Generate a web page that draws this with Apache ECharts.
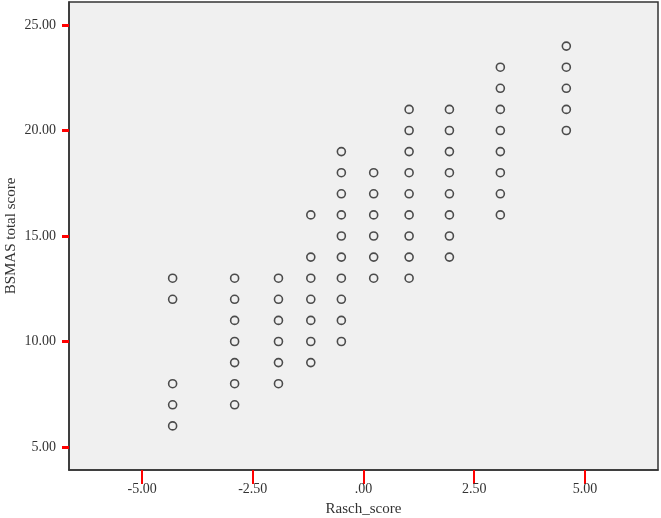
<!DOCTYPE html>
<html>
<head>
<meta charset="utf-8">
<script src="https://cdn.jsdelivr.net/npm/echarts@6/dist/echarts.min.js"></script>
<style>
  html, body { margin: 0; padding: 0; background: #fff; }
  #chart { width: 661px; height: 518px; }
</style>
</head>
<body>
<div id="chart"></div>
<script>
// Rasch score columns (x) and the BSMAS totals observed at each
const raschScores = [-4.31, -2.91, -1.92, -1.19, -0.50, 0.23, 1.03, 1.94, 3.09, 4.58];
const bsmasByColumn = [
  [13, 12, 8, 7, 6],
  [13, 12, 11, 10, 9, 8, 7],
  [13, 12, 11, 10, 9, 8],
  [16, 14, 13, 12, 11, 10, 9],
  [19, 18, 17, 16, 15, 14, 13, 12, 11, 10],
  [18, 17, 16, 15, 14, 13],
  [21, 20, 19, 18, 17, 16, 15, 14, 13],
  [21, 20, 19, 18, 17, 16, 15, 14],
  [23, 22, 21, 20, 19, 18, 17, 16],
  [24, 23, 22, 21, 20]
];
const xTicks = [-5, -2.5, 0, 2.5, 5];
const yTicks = [5, 10, 15, 20, 25];

const points = [];
raschScores.forEach((x, i) => {
  bsmasByColumn[i].forEach((y) => points.push([x, y]));
});

// SPSS style number: ".00" for zero
function fmt(v) {
  const s = Math.abs(v).toFixed(2);
  const t = Math.abs(v) < 1 ? s.slice(1) : s;
  return (v < 0 ? '-' : '') + t;
}

const font = '"Liberation Serif", "DejaVu Serif", serif';
const chart = echarts.init(document.getElementById('chart'));

const option = {
  backgroundColor: '#fff',
  animation: false,
  grid: {
    left: 69,
    right: 3,
    top: 2,
    bottom: 48,
    outerBoundsMode: 'none',
    show: true,
    backgroundColor: '#f0f0f0',
    borderColor: '#333',
    borderWidth: 1.5,
  },
  xAxis: {
    type: 'value',
    min: -6.65,
    max: 6.65,
    name: 'Rasch_score',
    nameLocation: 'middle',
    nameGap: 32,
    nameMoveOverlap: false,
    nameTextStyle: { fontFamily: font, fontSize: 15, color: '#333' },
    axisLine: { show: true, onZero: false, lineStyle: { color: '#333', width: 1.5 } },
    splitLine: { show: false },
    axisTick: {
      show: true,
      inside: false,
      length: 14,
      customValues: xTicks,
      lineStyle: { color: 'red', width: 2 },
    },
    axisLabel: {
      customValues: xTicks,
      margin: 12,
      fontFamily: font,
      fontSize: 14,
      color: '#333',
      formatter: fmt,
    },
  },
  yAxis: {
    type: 'value',
    min: 3.91,
    max: 26.09,
    name: 'BSMAS total score',
    nameLocation: 'middle',
    nameGap: 50,
    nameMoveOverlap: false,
    nameTextStyle: { fontFamily: font, fontSize: 15, color: '#333' },
    axisLine: { show: true, onZero: false, lineStyle: { color: '#333', width: 1.5 } },
    splitLine: { show: false },
    axisTick: {
      show: true,
      inside: false,
      length: 7,
      customValues: yTicks,
      lineStyle: { color: 'red', width: 3 },
    },
    axisLabel: {
      customValues: yTicks,
      margin: 13,
      fontFamily: font,
      fontSize: 14,
      color: '#333',
      formatter: fmt,
    },
  },
  series: [
    {
      type: 'scatter',
      symbol: 'circle',
      symbolSize: 8,
      itemStyle: {
        color: 'rgba(0,0,0,0)',
        borderColor: '#222',
        borderWidth: 1.6,
      },
      data: points,
    },
  ],
};

chart.setOption(option);
</script>
</body>
</html>
